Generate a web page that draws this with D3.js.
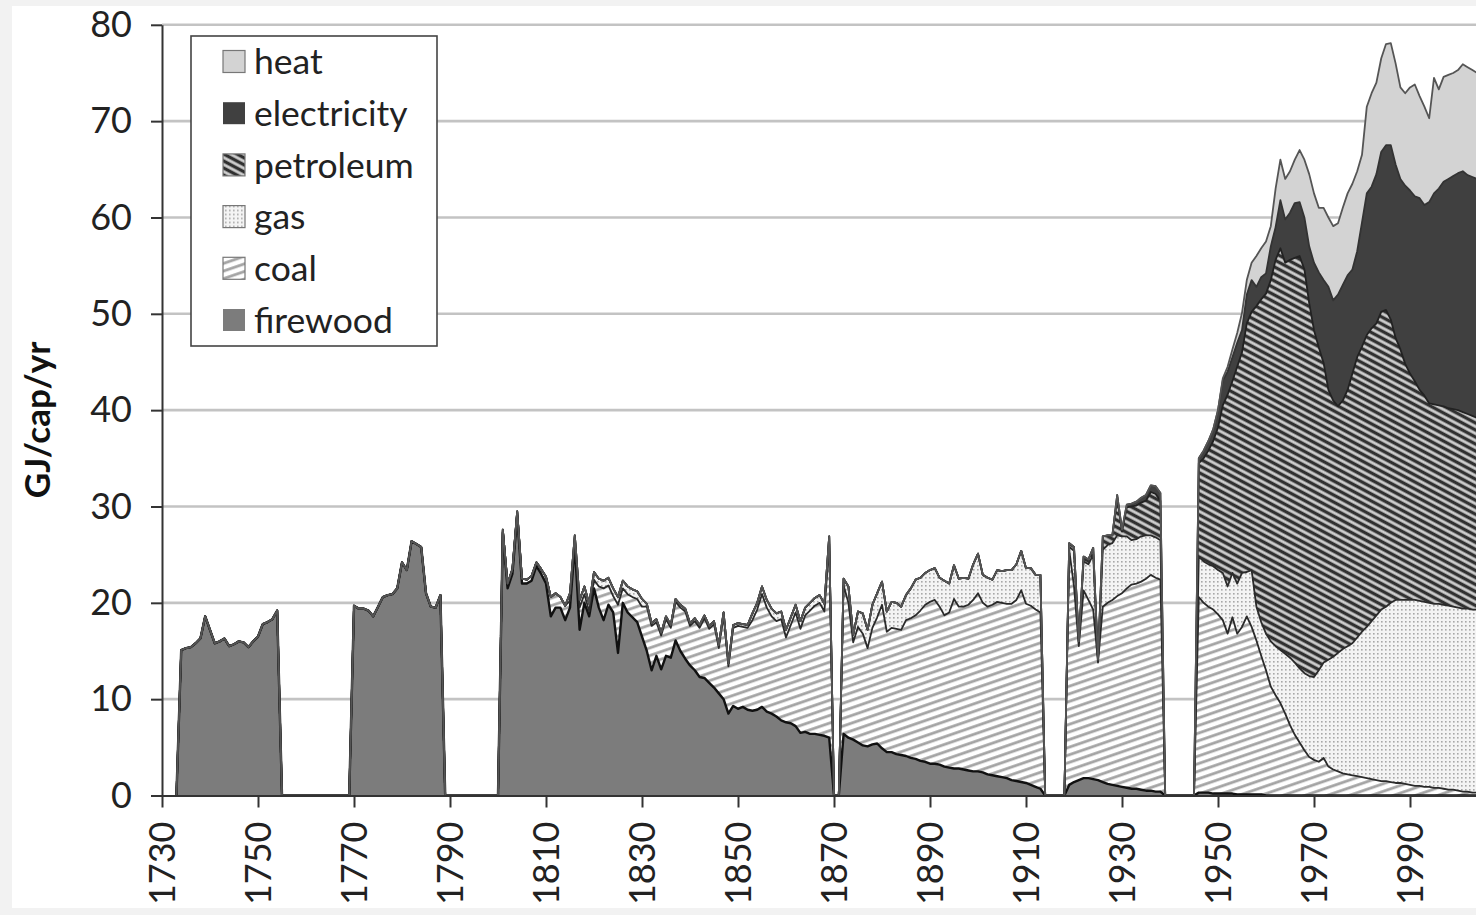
<!DOCTYPE html>
<html><head><meta charset="utf-8">
<script src="https://cdn.jsdelivr.net/npm/d3@7"></script>
<style>html,body{margin:0;padding:0;overflow:hidden;background:#f2f2f2}</style>
</head><body><svg id="chart" width="1476" height="915"></svg>
<script>
// ---------- DATA (GJ per capita per year) ----------
const seriesKeys = ["firewood", "coal", "gas", "petroleum", "electricity", "heat"];
const legendOrder = ["heat", "electricity", "petroleum", "gas", "coal", "firewood"];
const yTicks = [0, 10, 20, 30, 40, 50, 60, 70, 80];
const xTicks = [1730, 1750, 1770, 1790, 1810, 1830, 1850, 1870, 1890, 1910, 1930, 1950, 1970, 1990];

// years with no data (all series zero) separating the data periods
const gapYears = [1733, 1755, 1769, 1789, 1800, 1870, 1871, 1914, 1918, 1939, 1945];

// Period A: 1734-1754
const firewoodA = [15.1,15.3,15.4,15.8,16.3,18.6,17.2,15.8,16.0,16.3,15.5,15.7,16.0,15.9,15.4,16.0,16.5,17.8,18.0,18.3,19.2];
// Period B: 1770-1788
const firewoodB = [19.7,19.4,19.4,19.2,18.6,19.6,20.6,20.8,20.9,21.5,24.2,23.4,26.4,26.1,25.8,21.0,19.6,19.5,20.8];
// Period C: 1801-1869
const firewoodC = [27.3,21.5,23.0,29.0,22.0,22.0,22.3,23.8,23.0,22.0,
  18.6,19.5,19.5,18.2,19.5,26.0,17.2,20.0,18.6,21.5,
  19.5,18.2,19.8,19.0,14.8,20.0,19.0,18.5,18.0,16.5,
  15.0,13.0,14.5,13.1,14.5,14.3,16.1,15.0,14.2,13.5,
  13.0,12.3,12.2,11.7,11.2,10.6,10.0,8.5,9.3,9.0,
  9.2,8.9,8.8,8.9,9.2,8.7,8.5,8.2,7.8,7.6,
  7.5,7.2,6.5,6.6,6.4,6.4,6.3,6.2,6.0];
const coalC = [0.3,0.5,0.5,0.5,0.5,0.4,0.5,0.4,0.5,0.7,
  2.0,1.5,1.1,1.5,0.7,0.2,2.3,0.9,0.5,0.9,
  2.2,3.3,2.0,1.7,5.0,1.5,1.9,2.1,2.4,3.1,
  4.6,4.6,3.5,3.5,3.8,3.1,4.0,4.5,4.9,4.1,
  5.1,5.1,6.2,5.6,6.6,4.7,8.7,4.9,8.1,8.6,
  8.3,8.5,9.4,10.4,11.7,10.8,10.1,9.9,10.5,8.8,
  10.2,11.8,10.8,12.1,12.8,13.3,13.7,12.9,20.1];
const gasC = [0,0,0,0,0,0,0,0,0,0,
  0,0,0,0,0.8,0.8,0.8,0.8,0.8,0.8,
  0.8,0.8,0.8,0.8,0.8,0.8,0.8,0.8,0.8,0.8,
  0.3,0.3,0.3,0.3,0.3,0.3,0.3,0.3,0.3,0.3,
  0.3,0.3,0.3,0.3,0.3,0.3,0.3,0.3,0.3,0.3,
  0.3,0.3,0.7,0.7,0.8,0.8,0.8,0.8,0.8,0.8,
  0.8,0.8,0.8,0.8,0.8,0.8,0.8,0.8,0.8];
// Period D: 1872-1913
const firewoodD = [6.4,6.0,5.8,5.5,5.2,5.1,5.3,5.4,4.9,
  4.5,4.5,4.3,4.2,4.1,3.9,3.8,3.6,3.5,3.3,
  3.3,3.2,3.0,2.9,2.8,2.8,2.7,2.6,2.5,2.5,
  2.4,2.2,2.1,2.0,1.9,1.8,1.6,1.5,1.4,1.3,
  1.1,0.9,0.7];
const coalD = [15.4,14.0,10.1,12.0,11.6,10.2,12.1,13.1,14.9,
  12.5,12.9,13.0,13.0,14.1,14.5,14.9,15.6,16.3,16.8,
  17.0,16.4,15.7,16.1,17.6,16.8,16.9,17.2,17.8,18.5,
  17.6,17.4,17.7,18.1,18.1,18.1,18.3,18.8,19.9,18.6,
  18.6,18.4,18.3];
const gasD = [0.7,1.7,0.8,1.6,2.1,1.9,2.4,2.5,2.4,
  2.1,2.7,2.7,2.4,2.6,3.1,3.7,3.4,3.3,3.3,
  3.3,3.0,3.6,3.0,3.5,2.9,3.0,2.7,3.7,4.1,
  2.9,3.0,2.6,3.3,3.3,3.5,3.5,3.7,4.1,3.7,
  3.9,3.6,3.9];
// Period E: 1919-1938
const firewoodE = [1.1,1.4,1.6,1.8,1.8,1.7,1.6,1.4,1.2,1.1,1.0,0.9,0.8,0.7,0.7,0.6,0.5,0.5,0.4,0.4];
const coalE = [24.4,20.3,13.9,19.5,18.5,17.6,12.2,18.2,18.8,19.2,19.7,20.1,20.7,21.2,21.3,21.6,22.0,22.4,22.2,22.0];
const gasE = [0.3,3.7,0.4,3.0,3.7,5.7,0.2,5.9,6.0,5.9,6.3,5.9,5.4,4.6,4.6,4.7,4.5,4.1,4.2,4.1];
const petroleumE = [0.4,0.4,0.1,0.5,0.5,0.7,0.1,1.4,1.0,0.8,4.0,0.5,3.0,3.5,3.5,3.5,3.6,4.5,4.5,4.1];
const electricityE = [0,0,0,0,0,0,0,0,0,0,0.2,0.2,0.3,0.3,0.4,0.5,0.6,0.7,0.8,0.8];
// Period F: 1946-2005
const firewoodF = [0.3,0.3,0.3,0.2,0.2,0.2,0.2,0.2,0.1,0.1,
  0.1,0.1,0.1,0.1,0,0,0,0,0,0,
  0,0,0,0,0,0,0,0,0,0,
  0,0,0,0,0,0,0,0,0,0,
  0,0,0,0,0,0,0,0,0,0,
  0,0,0,0,0,0,0,0,0,0];
const coalF = [20.3,19.7,19.3,19.1,18.6,18.0,16.6,18.3,16.7,17.4,
  18.5,17.4,16.0,14.4,13.0,11.3,10.4,9.6,8.5,7.3,
  6.3,5.5,4.7,4.0,3.7,3.5,3.9,3.0,2.7,2.5,
  2.3,2.2,2.1,2.0,1.9,1.8,1.7,1.6,1.5,1.5,
  1.4,1.3,1.3,1.2,1.1,1.0,1.0,0.9,0.9,0.8,
  0.8,0.7,0.6,0.6,0.5,0.4,0.4,0.3,0.3,0.3];
const gasF = [4.2,4.3,4.4,4.5,4.6,4.9,4.9,4.6,5.2,5.6,
  4.6,5.9,3.5,3.5,3.8,4.7,5.1,5.5,6.2,7.0,
  7.5,7.7,8.0,8.4,8.6,9.5,9.9,11.1,11.7,12.3,
  12.9,13.3,13.7,14.4,15.1,15.7,16.4,17.1,17.8,18.1,
  18.6,19.0,19.0,19.1,19.2,19.3,19.2,19.2,19.1,19.1,
  19.1,19.1,19.1,19.0,19.0,19.0,19.0,19.0,19.0,18.9];
const petroleumF = [9.7,10.7,11.8,13.0,14.8,17.4,19.9,19.9,22.5,22.9,
  25.8,26.8,31.2,33.5,35.3,37.5,40.1,41.7,40.6,41.3,
  42.0,42.8,41.9,38.7,36.0,33.5,31.1,28.0,26.6,25.6,
  25.8,26.6,28.0,29.1,29.6,30.3,30.4,30.3,30.9,30.8,
  29.4,27.2,26.0,24.5,23.5,22.7,21.9,21.4,20.7,20.7,
  20.6,20.6,20.5,20.5,20.5,20.4,20.2,20.1,19.9,19.8];
const electricityF = [0.5,0.8,1.0,1.2,1.8,2.6,2.4,2.5,2.5,2.3,
  3.0,3.3,2.0,2.3,2.1,3.5,3.4,5.0,4.5,4.9,
  5.7,5.6,5.4,5.9,7.0,7.8,8.6,10.7,10.4,11.6,
  12.0,11.9,10.8,11.0,12.9,14.7,14.7,15.5,16.6,17.1,
  18.1,18.0,17.7,18.5,19.0,19.2,19.9,19.8,20.9,21.9,
  22.5,23.3,23.8,24.2,24.6,25.0,24.8,24.8,24.8,25.1];
const heatF = [0,0,0,0,0,0.2,0.5,0.8,1.0,1.8,
  1.5,1.8,3.2,3.0,3.3,2.1,4.0,4.2,4.2,4.3,
  4.5,5.4,6.0,7.5,7.2,6.7,7.5,7.2,7.7,7.4,
  8.0,8.5,8.9,8.3,7.0,9.0,9.7,9.5,9.7,10.5,
  10.6,10.5,9.5,9.6,10.7,11.6,10.6,10.2,8.7,12.0,
  10.3,10.9,10.8,10.7,10.7,11.1,11.2,11.1,11.0,11.1];

const periods = [
  {start: 1734, firewood: firewoodA},
  {start: 1770, firewood: firewoodB},
  {start: 1801, firewood: firewoodC, coal: coalC, gas: gasC},
  {start: 1872, firewood: firewoodD, coal: coalD, gas: gasD},
  {start: 1919, firewood: firewoodE, coal: coalE, gas: gasE, petroleum: petroleumE, electricity: electricityE},
  {start: 1946, firewood: firewoodF, coal: coalF, gas: gasF, petroleum: petroleumF, electricity: electricityF, heat: heatF}
];

// ---------- BUILD TABLE ----------
const rows = [];
gapYears.forEach(yr => { const r = {year: yr}; seriesKeys.forEach(k => r[k] = 0); rows.push(r); });
periods.forEach(p => {
  p.firewood.forEach((v, i) => {
    const r = {year: p.start + i};
    seriesKeys.forEach(k => r[k] = p[k] ? p[k][i] : 0);
    rows.push(r);
  });
});
rows.sort((a, b) => a.year - b.year);
const stacked = d3.stack().keys(seriesKeys)(rows);

// ---------- DRAW ----------
const W = 1476, H = 915;
const svg = d3.select("#chart");
const FONT = "Lato, 'Open Sans', sans-serif";

svg.append("rect").attr("width", W).attr("height", H).attr("fill", "#f2f2f2");
svg.append("rect").attr("x", 12).attr("y", 6).attr("width", W - 12).attr("height", 902).attr("fill", "#ffffff");

const defs = svg.append("defs");
// coal: light grey stripes rising to the right
const pCoal = defs.append("pattern").attr("id", "pat-coal").attr("patternUnits", "userSpaceOnUse")
  .attr("width", 12).attr("height", 7.2).attr("patternTransform", "rotate(-19)");
pCoal.append("rect").attr("width", 12).attr("height", 7.2).attr("fill", "#ffffff");
pCoal.append("rect").attr("y", 2).attr("width", 12).attr("height", 2.8).attr("fill", "#a4a4a4");
// petroleum: dark stripes descending to the right
const pPet = defs.append("pattern").attr("id", "pat-pet").attr("patternUnits", "userSpaceOnUse")
  .attr("width", 12).attr("height", 6.2).attr("patternTransform", "rotate(28)");
pPet.append("rect").attr("width", 12).attr("height", 6.2).attr("fill", "#cdcdcd");
pPet.append("rect").attr("y", 1.5).attr("width", 12).attr("height", 3.3).attr("fill", "#303030");
// gas: fine dots
const pGas = defs.append("pattern").attr("id", "pat-gas").attr("patternUnits", "userSpaceOnUse")
  .attr("width", 4).attr("height", 4);
pGas.append("rect").attr("width", 4).attr("height", 4).attr("fill", "#f4f4f4");
pGas.append("rect").attr("x", 1).attr("y", 1).attr("width", 1.6).attr("height", 1.6).attr("fill", "#a8a8a8");

const fills = {firewood: "#7c7c7c", coal: "url(#pat-coal)", gas: "url(#pat-gas)",
  petroleum: "url(#pat-pet)", electricity: "#404040", heat: "#d3d3d3"};
const strokes = {firewood: "#111", coal: "#2a2a2a", gas: "#2a2a2a", petroleum: "#222",
  electricity: "#333", heat: "#555"};

const x = d3.scaleLinear().domain([1730, 2010]).range([162, 162 + 280 * 4.8]);
const y = d3.scaleLinear().domain([0, 80]).range([795.5, 24.8]);

// gridlines
svg.append("g").selectAll("line").data(yTicks.filter(t => t > 0)).join("line")
  .attr("x1", x(1730)).attr("x2", W).attr("y1", d => y(d)).attr("y2", d => y(d))
  .attr("stroke", "#c3c3c3").attr("stroke-width", 2.6);

// areas
const area = d3.area().x(d => x(d.data.year)).y0(d => y(d[0])).y1(d => y(d[1]));
const line = d3.line().x(d => x(d.data.year)).y(d => y(d[1]));
const gA = svg.append("g");
gA.selectAll("path").data(stacked).join("path")
  .attr("d", area).attr("fill", d => fills[d.key]);
const gL = svg.append("g");
gL.selectAll("path").data(stacked).join("path")
  .attr("d", line).attr("fill", "none").attr("stroke", d => strokes[d.key])
  .attr("stroke-width", d => d.key === "firewood" ? 2.4 : 1.8).attr("stroke-linejoin", "round");

// axes
const yAxis = svg.append("g").attr("transform", `translate(${x(1730)},0)`)
  .call(d3.axisLeft(y).tickValues(yTicks).tickSize(11).tickSizeOuter(0).tickPadding(19));
yAxis.select(".domain").attr("stroke", "#333").attr("stroke-width", 2);
yAxis.selectAll(".tick line").attr("stroke", "#333").attr("stroke-width", 2);
yAxis.selectAll("text").attr("font-family", FONT).attr("font-size", 36).attr("fill", "#222");

const xAxis = svg.append("g").attr("transform", `translate(0,${y(0)})`)
  .call(d3.axisBottom(x).tickValues(xTicks).tickSize(12).tickSizeOuter(0).tickFormat(d3.format("d")));
xAxis.select(".domain").attr("stroke", "#333").attr("stroke-width", 2);
xAxis.selectAll(".tick line").attr("stroke", "#333").attr("stroke-width", 2);
xAxis.selectAll("text").attr("font-family", FONT).attr("font-size", 36).attr("fill", "#222")
  .attr("x", -26).attr("y", 0).attr("dy", "0.36em").attr("transform", "rotate(-90)")
  .style("text-anchor", "end");

// y title
svg.append("text").attr("transform", "translate(50,420) rotate(-90)")
  .attr("text-anchor", "middle").attr("font-family", FONT).attr("font-weight", "bold")
  .attr("font-size", 35).attr("fill", "#111").text("GJ/cap/yr");

// legend
const lg = svg.append("g");
lg.append("rect").attr("x", 191).attr("y", 36).attr("width", 246).attr("height", 310)
  .attr("fill", "#fff").attr("stroke", "#444").attr("stroke-width", 1.6);
const rowY = d3.scalePoint().domain(legendOrder).range([61.5, 320]);
const items = lg.selectAll("g.item").data(legendOrder).join("g").attr("class", "item")
  .attr("transform", d => `translate(0,${rowY(d)})`);
items.append("rect").attr("x", 223).attr("y", -11).attr("width", 22).attr("height", 22)
  .attr("fill", d => fills[d]).attr("stroke", d => d === "electricity" || d === "firewood" ? "none" : "#777")
  .attr("stroke-width", 1.2);
items.append("text").attr("x", 254).attr("y", 0).attr("dy", "0.36em")
  .attr("font-family", FONT).attr("font-size", 35.5).attr("fill", "#222").text(d => d);
</script></body></html>
